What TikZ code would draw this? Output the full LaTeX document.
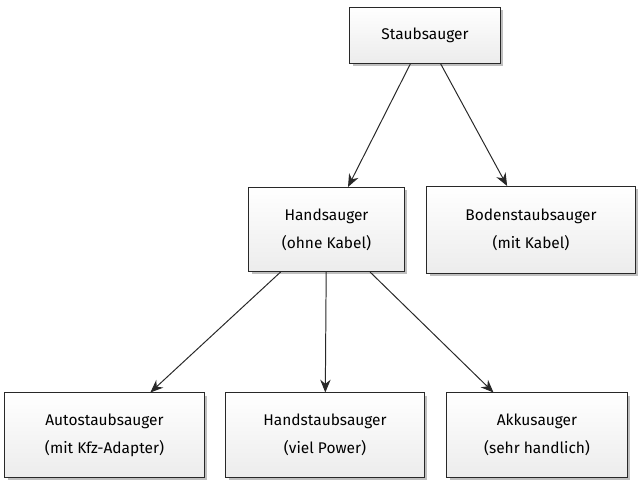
\documentclass[tikz,border=0pt]{standalone}
\usepackage{fontspec}
\setmainfont{Fira Sans}
\usetikzlibrary{arrows.meta,shadows}
\definecolor{boxLine}{RGB}{40,40,40}
\definecolor{boxFill}{RGB}{236,236,236}

\begin{document}
\begin{tikzpicture}[x=0.025cm,y=0.025cm,font=\fontsize{11}{20}\selectfont,
    box/.style={draw=boxLine,line width=0.7pt,align=center,top color=white,bottom color=boxFill,
      drop shadow={shadow xshift=2pt,shadow yshift=-2pt,opacity=0.25,fill=black},
      minimum width=#1,minimum height=2.1cm},
    link/.style={-{Stealth[length=3.2mm,width=2.6mm]},line width=0.7pt,boxLine}]
    \useasboundingbox (0,0) rectangle (640,483);
    % Nodes
    \node[box=3.75cm,minimum height=1.4cm] at (425,448) (staub) {Staubsauger};
    \node[box=3.875cm] at (326.5,253.5) (hand) {Handsauger\\(ohne Kabel)};
    \node[box=5.2cm,minimum height=2.175cm] at (531,253) (boden) {Bodenstaubsauger\\(mit Kabel)};
    \node[box=4.975cm] at (104.5,48) (auto) {Autostaubsauger\\(mit Kfz-Adapter)};
    \node[box=4.95cm] at (325,48) (handstaub) {Handstaubsauger\\(viel Power)};
    \node[box=4.5cm] at (537,48) (akku) {Akkusauger\\(sehr handlich)};
    % Arrows
    \draw[link] (staub) -- (hand);
    \draw[link] (staub) -- (boden);
    \draw[link] (hand) -- (auto);
    \draw[link] (hand) -- (handstaub);
    \draw[link] (hand) -- (akku);
\end{tikzpicture}
\end{document}
